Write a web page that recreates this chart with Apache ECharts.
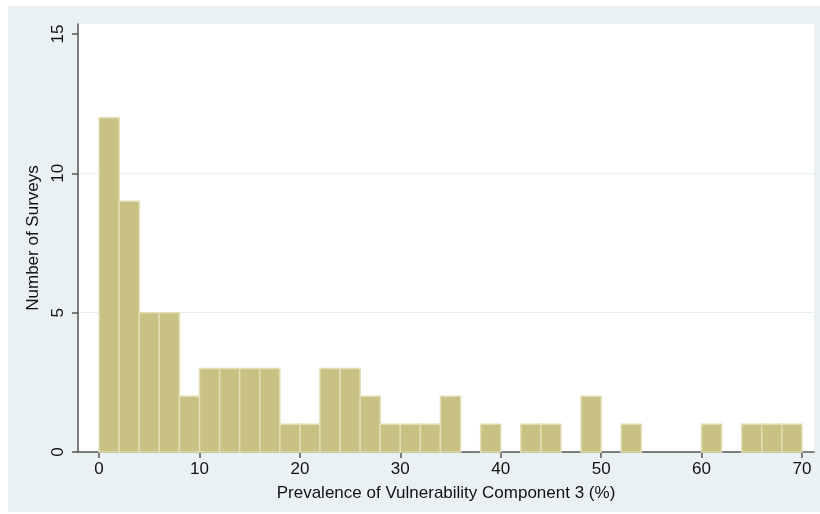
<!DOCTYPE html>
<html><head><meta charset="utf-8">
<script src="https://cdn.jsdelivr.net/npm/echarts@6/dist/echarts.min.js"></script>
<style>html,body{margin:0;padding:0;background:#fff}#c{width:820px;height:514px}</style>
</head><body><div id="c"></div>
<script>
const binStarts = [0,2,4,6,8,10,12,14,16,18,20,22,24,26,28,30,32,34,36,38,40,42,44,46,48,50,52,54,56,58,60,62,64,66,68];
const binWidth = 2;
const counts = [12,9,5,5,2,3,3,3,3,1,1,3,3,2,1,1,1,2,0,1,0,1,1,0,2,0,1,0,0,0,1,0,1,1,1];
const xTicks = [0,10,20,30,40,50,60,70];
const yTicks = [0,5,10,15];
const xTitle = 'Prevalence of Vulnerability Component 3 (%)';
const yTitle = 'Number of Surveys';

const data = binStarts.map((s,i)=>[s, s+binWidth, counts[i]]).filter(d=>d[2]>0);
const font = 'Liberation Sans, Arial, sans-serif';
const chart = echarts.init(document.getElementById('c'), null, {renderer:'canvas'});
chart.setOption({
  animation:false,
  backgroundColor:'#fff',
  graphic:[
    {type:'rect', shape:{x:8,y:6,width:812,height:506}, style:{fill:'#eaf1f3'}, z:-10, silent:true},
    {type:'rect', shape:{x:78,y:24,width:736,height:428}, style:{fill:'#ffffff'}, z:-9, silent:true}
  ],
  grid:{left:78, right:6, top:24, bottom:62},
  xAxis:{type:'value', min:-2.1, max:71.2,
    axisLine:{show:true, onZero:false, lineStyle:{color:'#555', width:1.5}},
    axisTick:{show:true, customValues:xTicks, length:6, lineStyle:{color:'#555', width:1.5}},
    axisLabel:{customValues:xTicks, color:'#111', fontSize:17, fontFamily:font, margin:9},
    splitLine:{show:false},
    name:xTitle, nameLocation:'middle', nameGap:33,
    nameTextStyle:{color:'#111', fontSize:17, fontFamily:font}
  },
  yAxis:{type:'value', min:0, max:15.36,
    axisLine:{show:true, onZero:false, lineStyle:{color:'#555', width:1.5}},
    axisTick:{show:true, customValues:yTicks, length:6, lineStyle:{color:'#555', width:1.5}},
    axisLabel:{customValues:yTicks, color:'#111', fontSize:17, fontFamily:font, rotate:90, margin:11},
    splitLine:{show:false},
    name:yTitle, nameLocation:'middle', nameGap:31, nameRotate:90,
    nameTextStyle:{color:'#111', fontSize:17, fontFamily:font}
  },
  series:[{
    type:'custom',
    data:data,
    encode:{x:[0,1], y:2},
    renderItem:function(params, api){
      const p0 = api.coord([api.value(0), 0]);
      const p1 = api.coord([api.value(1), api.value(2)]);
      return {type:'rect', shape:{x:p0[0], y:p1[1], width:p1[0]-p0[0], height:p0[1]-p1[1]},
        style:{fill:'#c8c183', stroke:'#e2ddb3', lineWidth:1.5}};
    },
    markLine:{silent:true, symbol:'none', label:{show:false},
      lineStyle:{color:'#e6eef0', width:1, type:'solid'}, z:-1,
      data:[{yAxis:5},{yAxis:10}]},
    z:2
  }]
});
</script></body></html>
